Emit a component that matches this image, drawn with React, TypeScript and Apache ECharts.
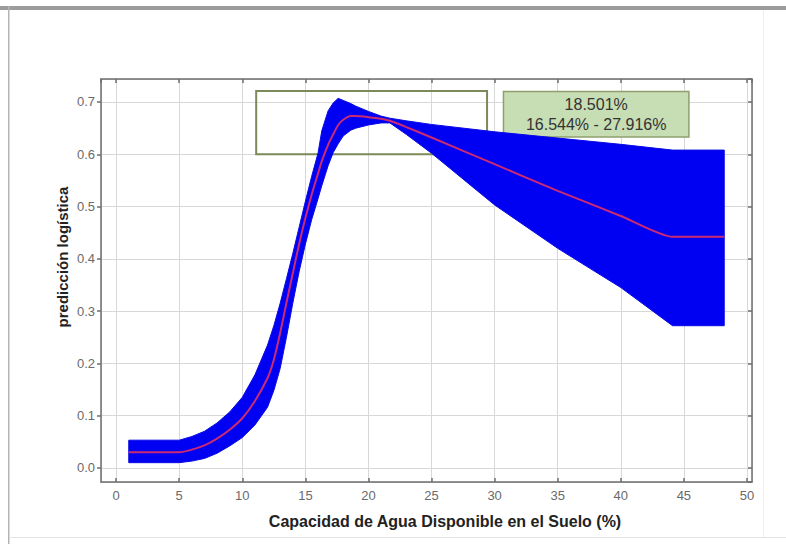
import React, { useEffect, useRef } from "react";
import * as echarts from "echarts";

// x positions (Capacidad de Agua Disponible en el Suelo, %)
const xs = [1, 5, 6, 7, 8, 9, 10, 11, 12, 12.5, 13, 13.5, 14, 14.5, 15, 15.5, 16, 16.3, 16.8, 17.2, 17.6, 18, 18.6, 19, 20, 21, 21.7, 23, 25, 30, 35, 40, 44.1, 48.2];
// upper bound of the response band
const upper = [0.053, 0.053, 0.06, 0.07, 0.086, 0.107, 0.135, 0.178, 0.235, 0.272, 0.315, 0.362, 0.41, 0.46, 0.51, 0.558, 0.602, 0.645, 0.683, 0.698, 0.707, 0.703, 0.697, 0.692, 0.682, 0.673, 0.669, 0.664, 0.657, 0.643, 0.631, 0.619, 0.608, 0.608];
// mean logistic prediction
const center = [0.03, 0.03, 0.035, 0.043, 0.056, 0.073, 0.095, 0.128, 0.172, 0.207, 0.258, 0.316, 0.372, 0.428, 0.478, 0.523, 0.563, 0.587, 0.618, 0.638, 0.656, 0.666, 0.673, 0.673, 0.671, 0.668, 0.664, 0.652, 0.632, 0.581, 0.53, 0.482, 0.442, 0.442];
// lower bound of the response band
const lower = [0.01, 0.01, 0.013, 0.018, 0.028, 0.042, 0.058, 0.082, 0.116, 0.148, 0.19, 0.25, 0.315, 0.375, 0.428, 0.475, 0.515, 0.54, 0.578, 0.603, 0.62, 0.635, 0.646, 0.65, 0.656, 0.66, 0.66, 0.638, 0.602, 0.503, 0.42, 0.345, 0.272, 0.272];

// axis extents
const X_MIN = -1.2;
const X_MAX = 50.4;
const Y_MIN = -0.027;
const Y_MAX = 0.744;

// annotation: optimum range box and label box (data coords)
const RANGE_BOX = [[11.1, 0.721], [29.4, 0.6]];
const LABEL_BOX = [[30.7, 0.72], [45.4, 0.633]];
const LABEL_LINES = ["18.501%", "16.544% - 27.916%"];

const X_TITLE = "Capacidad de Agua Disponible en el Suelo (%)";
const Y_TITLE = "predicción logística";

export default function App() {
  const ref = useRef<HTMLDivElement>(null);

  useEffect(() => {
    if (!ref.current) return;
    const chart = echarts.init(ref.current, null, { renderer: "svg" });
    const font = 'Arial, "Liberation Sans", sans-serif';
    const bandData = xs.map((x, i) => [x, lower[i], upper[i]]);
    const centerData = xs.map((x, i) => [x, center[i]]);
    const axisLine = { color: "#6e6e6e", width: 1.5 };
    const gridLine = { color: "#d8d8d8", width: 1 };
    const labelStyle = { color: "#6a6a6a", fontSize: 13, fontFamily: font };

    const renderBand = (params: any, api: any) => {
      if (params.dataIndex !== 0) return null;
      const top = bandData.map((d) => api.coord([d[0], d[2]]));
      const bottom = bandData.map((d) => api.coord([d[0], d[1]])).reverse();
      return {
        type: "polygon",
        shape: { points: top.concat(bottom) },
        style: { fill: "#0000f2", stroke: "#0a0ae6", lineWidth: 1 },
      };
    };

    chart.setOption({
      animation: false,
      backgroundColor: "#ffffff",
      grid: { left: 101, right: 34, top: 79, bottom: 62, containLabel: false },
      xAxis: [
        {
          type: "value",
          min: X_MIN,
          max: X_MAX,
          splitNumber: 10,
          axisLine: { show: true, onZero: false, lineStyle: axisLine },
          axisTick: { show: true, inside: true, length: 4, lineStyle: axisLine },
          axisLabel: { ...labelStyle, margin: 7, showMinLabel: false, showMaxLabel: false },
          splitLine: { show: true, lineStyle: gridLine },
        },
        {
          type: "value",
          position: "top",
          min: X_MIN,
          max: X_MAX,
          splitNumber: 10,
          axisLine: { show: true, onZero: false, lineStyle: axisLine },
          axisTick: { show: true, inside: true, length: 4, lineStyle: axisLine },
          axisLabel: { show: false },
          splitLine: { show: false },
        },
      ],
      yAxis: [
        {
          type: "value",
          min: Y_MIN,
          max: Y_MAX,
          splitNumber: 8,
          axisLine: { show: true, onZero: false, lineStyle: axisLine },
          axisTick: { show: true, inside: false, length: 4, lineStyle: axisLine },
          axisLabel: {
            ...labelStyle,
            margin: 6,
            showMinLabel: false,
            showMaxLabel: false,
            formatter: (v: number) => v.toFixed(1),
          },
          splitLine: { show: true, lineStyle: gridLine },
        },
        {
          type: "value",
          position: "right",
          min: Y_MIN,
          max: Y_MAX,
          splitNumber: 8,
          axisLine: { show: true, onZero: false, lineStyle: axisLine },
          axisTick: { show: true, inside: true, length: 4, lineStyle: axisLine },
          axisLabel: { show: false },
          splitLine: { show: false },
        },
      ],
      series: [
        {
          type: "custom",
          name: "band",
          data: bandData,
          encode: { x: 0, y: [1, 2] },
          renderItem: renderBand,
          silent: true,
          z: 2,
        },
        {
          type: "line",
          name: "center",
          data: centerData,
          symbol: "none",
          silent: true,
          smooth: 0.2,
          lineStyle: { color: "#cc2a72", width: 2 },
          z: 3,
        },
        {
          type: "line",
          name: "annotations",
          data: [],
          z: 5,
          markArea: {
            silent: true,
            data: [
              [
                {
                  coord: RANGE_BOX[0],
                  itemStyle: { color: "rgba(0,0,0,0)", borderColor: "#7b8a58", borderWidth: 2 },
                },
                { coord: RANGE_BOX[1] },
              ],
              [
                {
                  coord: LABEL_BOX[0],
                  itemStyle: { color: "#c7ddb3", borderColor: "#8fa06e", borderWidth: 1.5 },
                  label: {
                    show: true,
                    position: "inside",
                    formatter: LABEL_LINES.join("\n"),
                    color: "#333333",
                    fontSize: 16,
                    lineHeight: 20,
                    fontFamily: font,
                    align: "center",
                  },
                },
                { coord: LABEL_BOX[1] },
              ],
            ],
          },
        },
      ],
      graphic: [
        { type: "rect", shape: { x: 0, y: 6, width: 786, height: 4 }, style: { fill: "#9c9c9c" }, silent: true },
        { type: "rect", shape: { x: 8, y: 6, width: 1.5, height: 538 }, style: { fill: "#b4b4b4" }, silent: true },
        { type: "rect", shape: { x: 9, y: 537, width: 777, height: 1 }, style: { fill: "#e4e4e4" }, silent: true },
        { type: "rect", shape: { x: 763, y: 10, width: 1, height: 527 }, style: { fill: "#eeeeee" }, silent: true },
        {
          type: "text",
          x: 445,
          y: 521,
          style: {
            text: X_TITLE,
            fill: "#222222",
            font: `bold 16px ${font}`,
            align: "center",
            verticalAlign: "middle",
          },
          silent: true,
        },
        {
          type: "text",
          x: 62,
          y: 257,
          rotation: Math.PI / 2,
          style: {
            text: Y_TITLE,
            fill: "#222222",
            font: `bold 15px ${font}`,
            align: "center",
            verticalAlign: "middle",
          },
          silent: true,
        },
      ],
    });

    return () => chart.dispose();
  }, []);

  return (
    <div
      ref={ref}
      style={{ position: "fixed", left: 0, top: 0, width: 786, height: 544, background: "#fff" }}
    />
  );
}
